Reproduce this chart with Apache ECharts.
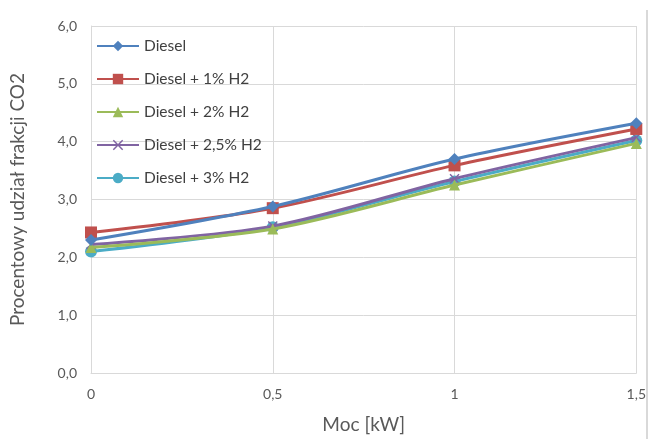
<!DOCTYPE html>
<html>
<head>
<meta charset="utf-8">
<script src="https://cdn.jsdelivr.net/npm/echarts@6/dist/echarts.min.js"></script>
<style>html,body{margin:0;padding:0;background:#fff}#c{width:649px;height:439px}</style>
</head>
<body>
<div id="c"></div>
<script>
const xValues = [0, 0.5, 1, 1.5];
const seriesNames = ['Diesel', 'Diesel + 1% H2', 'Diesel + 2% H2', 'Diesel + 2,5% H2', 'Diesel + 3% H2'];
const diesel = [2.30, 2.88, 3.70, 4.32];
const h2_1 = [2.43, 2.85, 3.59, 4.22];
const h2_2 = [2.17, 2.49, 3.25, 3.97];
const h2_25 = [2.22, 2.54, 3.36, 4.07];
const h2_3 = [2.10, 2.52, 3.31, 4.02];
const yTicks = [0, 1, 2, 3, 4, 5, 6];

const colors = ['#4F81BD', '#C0504D', '#9BBB59', '#8064A2', '#4BACC6'];
const symbols = ['diamond', 'rect', 'triangle',
  'path://M1,0 L5,4 L9,0 L10,1 L6,5 L10,9 L9,10 L5,6 L1,10 L0,9 L4,5 L0,1 Z', 'circle'];
const sizes = [12, 12, 11, 10, 12];
const allData = [diesel, h2_1, h2_2, h2_25, h2_3];

const series = allData.map((vals, i) => ({
  name: seriesNames[i],
  type: 'line',
  smooth: 0.3,
  data: xValues.map((x, j) => [x, vals[j]]),
  symbol: symbols[i],
  symbolSize: sizes[i],
  showAllSymbol: true,
  lineStyle: { width: 3, color: colors[i] },
  itemStyle: { color: colors[i] },
  z: 10 - i
}));

const chart = echarts.init(document.getElementById('c'), null, { renderer: 'canvas' });
chart.setOption({
  animation: false,
  textStyle: { fontFamily: 'Lato' },
  grid: { left: 88, right: 12, top: 26, bottom: 63 },
  legend: {
    orient: 'vertical',
    left: 91,
    top: 33,
    padding: 5,
    itemWidth: 42,
    itemHeight: 13,
    itemGap: 17,
    textStyle: { fontFamily: 'Lato', fontSize: 15.5, color: '#404040' },
    data: seriesNames
  },
  xAxis: {
    type: 'value',
    min: 0, max: 1.5, interval: 0.5,
    name: 'Moc [kW]',
    nameLocation: 'middle',
    nameGap: 42,
    nameTextStyle: { fontFamily: 'Lato', fontSize: 19, color: '#595959' },
    axisLine: { show: true, lineStyle: { color: '#D9D9D9' } },
    axisTick: { show: false },
    axisLabel: { fontSize: 14, color: '#595959', margin: 14,
      formatter: v => String(v).replace('.', ',') },
    splitLine: { show: true, lineStyle: { color: '#D9D9D9' } }
  },
  yAxis: {
    type: 'value',
    min: 0, max: 6, interval: 1,
    name: 'Procentowy udział frakcji CO2',
    nameLocation: 'middle',
    nameGap: 64,
    nameTextStyle: { fontFamily: 'Lato', fontSize: 19, color: '#595959' },
    axisLine: { show: true, lineStyle: { color: '#D9D9D9' } },
    axisTick: { show: false },
    axisLabel: { fontSize: 14, color: '#595959', margin: 14,
      formatter: v => v.toFixed(1).replace('.', ',') },
    splitLine: { show: true, lineStyle: { color: '#D9D9D9' } }
  },
  graphic: [{
    type: 'line',
    shape: { x1: 647, y1: 10, x2: 647, y2: 439 },
    style: { stroke: '#D9D9D9', lineWidth: 2 }
  }],
  series: series
});
</script>
</body>
</html>
